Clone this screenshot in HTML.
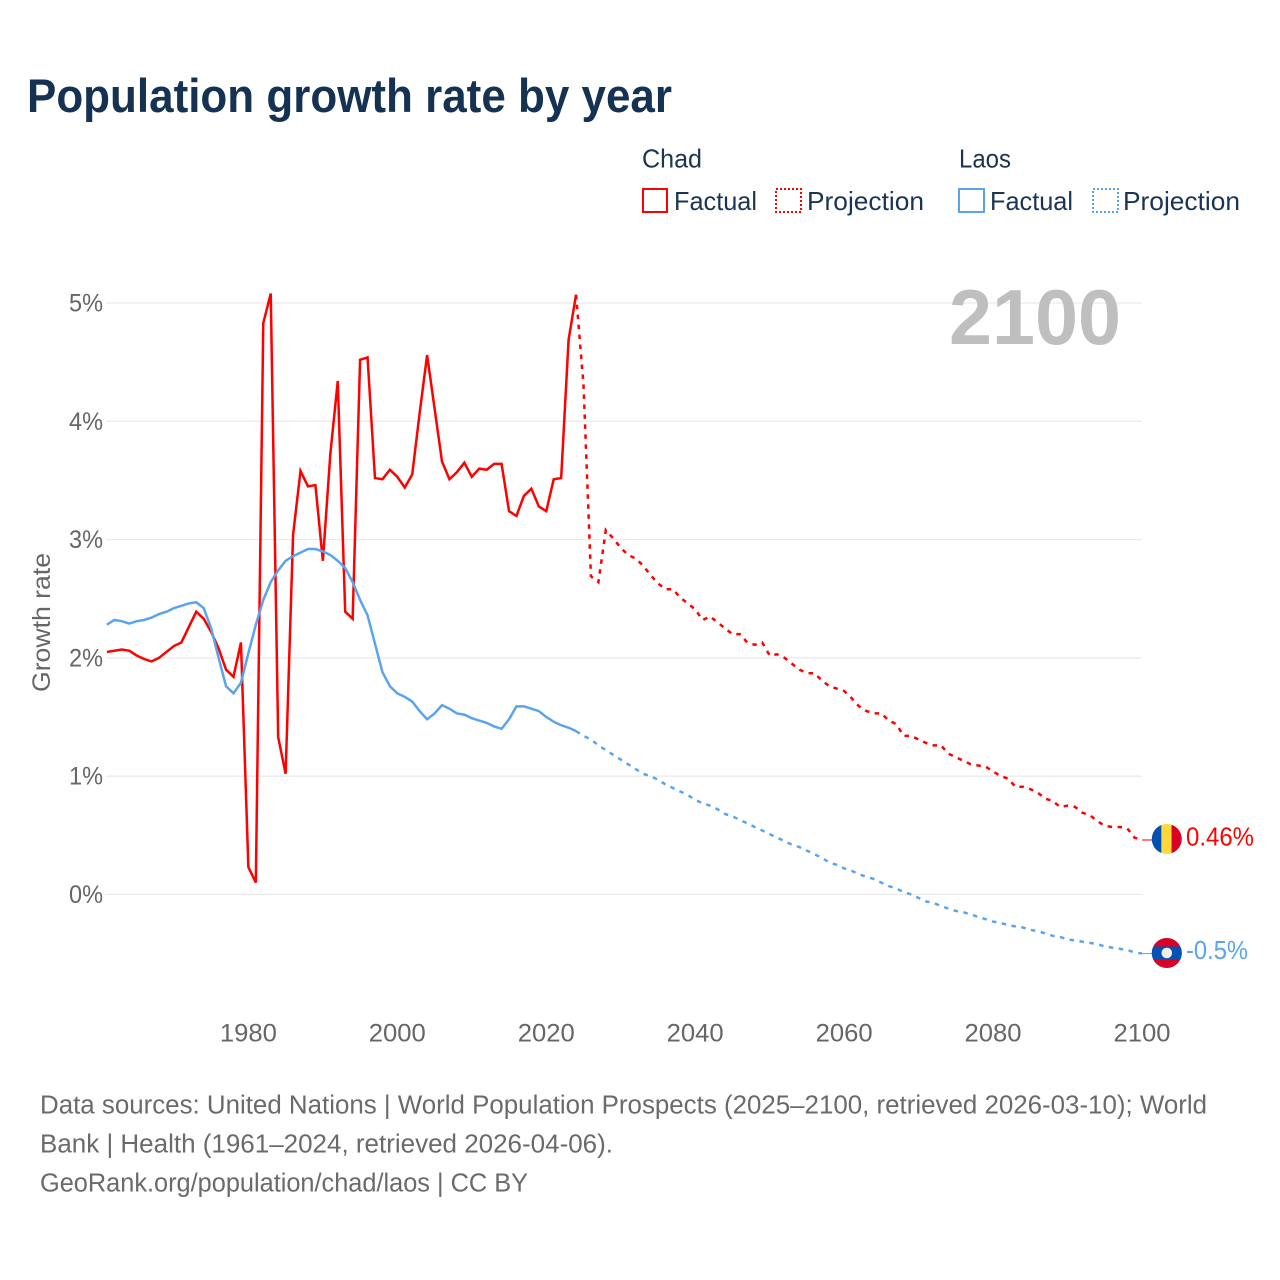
<!DOCTYPE html>
<html lang="en">
<head>
<meta charset="utf-8">
<title>Population growth rate by year</title>
<style>
  html, body { margin: 0; padding: 0; background: #fff; }
  body { width: 1280px; height: 1280px; overflow: hidden; }
  svg { display: block; font-family: "Liberation Sans", sans-serif; }
  .tick { font-size: 25px; fill: #666; }
  .legend { font-size: 26px; fill: #1b3454; }
  .foot { font-size: 25.5px; fill: #6a6a6a; }
</style>
</head>
<body>
<svg id="chart" width="1280" height="1280" viewBox="0 0 1280 1280" xmlns="http://www.w3.org/2000/svg">
  <defs>
    <clipPath id="clip-chad"><circle cx="1166.8" cy="839" r="15"/></clipPath>
    <clipPath id="clip-laos"><circle cx="1166.8" cy="953" r="15"/></clipPath>
  </defs>

  <text x="27" y="112" font-size="47" font-weight="700" fill="#163253" textLength="645" lengthAdjust="spacingAndGlyphs">Population growth rate by year</text>

  <g>
    <text class="legend" x="642" y="167.5" textLength="60" lengthAdjust="spacingAndGlyphs">Chad</text>
    <g>
      <rect x="643" y="189" width="24" height="23" fill="none" stroke="#ff0000" stroke-width="2"/>
      <text class="legend" x="674" y="210" textLength="83" lengthAdjust="spacingAndGlyphs">Factual</text>
    </g>
    <g>
      <rect x="776" y="189" width="25" height="23" fill="none" stroke="#ff0000" stroke-width="2" stroke-dasharray="2 2"/>
      <text class="legend" x="807" y="210" textLength="117" lengthAdjust="spacingAndGlyphs">Projection</text>
    </g>
    <text class="legend" x="959" y="167.5" textLength="52" lengthAdjust="spacingAndGlyphs">Laos</text>
    <g>
      <rect x="959" y="189" width="25" height="23" fill="none" stroke="#5ba4ec" stroke-width="2"/>
      <text class="legend" x="990" y="210" textLength="83" lengthAdjust="spacingAndGlyphs">Factual</text>
    </g>
    <g>
      <rect x="1093" y="189" width="25" height="23" fill="none" stroke="#5ba4ec" stroke-width="2" stroke-dasharray="2 2"/>
      <text class="legend" x="1123" y="210" textLength="117" lengthAdjust="spacingAndGlyphs">Projection</text>
    </g>
  </g>

  <g id="grid"></g>
  <g id="y-ticks"></g>
  <g id="x-ticks"></g>

  <text transform="translate(50,622.5) rotate(-90)" text-anchor="middle" font-size="25" fill="#666" textLength="139" lengthAdjust="spacingAndGlyphs">Growth rate</text>

  <text x="949" y="344" font-size="78" font-weight="700" fill="#bfbfbf" textLength="172" lengthAdjust="spacingAndGlyphs">2100</text>

  <g id="series"></g>

  <g clip-path="url(#clip-chad)">
    <rect x="1151" y="823" width="10.8" height="32" fill="#0050b0"/>
    <rect x="1161.3" y="823" width="10" height="32" fill="#ffd83d"/>
    <rect x="1171.5" y="823" width="11" height="32" fill="#d80027"/>
  </g>
  <text x="1186" y="845.5" font-size="25.5" fill="#ff0000" textLength="68" lengthAdjust="spacingAndGlyphs">0.46%</text>

  <g clip-path="url(#clip-laos)">
    <rect x="1151" y="937" width="32" height="32" fill="#d80027"/>
    <rect x="1151" y="946.5" width="32" height="13.5" fill="#0052b4"/>
    <circle cx="1166.8" cy="953" r="5.3" fill="#f0f0f0"/>
  </g>
  <text x="1186" y="959" font-size="25.5" fill="#5ba4ec" textLength="62" lengthAdjust="spacingAndGlyphs">-0.5%</text>

  <g>
    <text class="foot" x="40" y="1113.5" textLength="1167" lengthAdjust="spacingAndGlyphs">Data sources: United Nations | World Population Prospects (2025–2100, retrieved 2026-03-10); World</text>
    <text class="foot" x="40" y="1152.5" textLength="573" lengthAdjust="spacingAndGlyphs">Bank | Health (1961–2024, retrieved 2026-04-06).</text>
    <text class="foot" x="40" y="1191.5" textLength="488" lengthAdjust="spacingAndGlyphs">GeoRank.org/population/chad/laos | CC BY</text>
  </g>
</svg>

<script>
const factualStartYear = 1961;
const projectionStartYear = 2024;

const chadFactual = [
  2.05,2.06,2.07,2.06,2.02,1.99,1.97,2.00,2.05,2.10,
  2.13,2.26,2.39,2.33,2.22,2.08,1.90,1.84,2.13,0.23,
  0.10,4.83,5.08,1.33,1.02,3.04,3.58,3.45,3.46,2.82,
  3.72,4.34,2.39,2.33,4.52,4.54,3.52,3.51,3.59,3.53,
  3.44,3.55,4.07,4.56,4.11,3.66,3.51,3.57,3.65,3.53,
  3.60,3.59,3.64,3.64,3.24,3.20,3.37,3.43,3.28,3.24,
  3.51,3.52,4.69,5.07
];
const chadProjection = [
  5.07,4.31,2.69,2.64,3.08,3.01,2.93,
  2.87,2.84,2.78,2.70,2.63,2.58,2.58,2.51,2.46,2.41,
  2.32,2.35,2.30,2.25,2.20,2.20,2.13,2.11,2.13,2.02,
  2.03,2.00,1.95,1.90,1.87,1.87,1.81,1.76,1.74,1.72,
  1.66,1.59,1.55,1.53,1.53,1.47,1.44,1.34,1.34,1.31,
  1.28,1.26,1.26,1.19,1.16,1.13,1.10,1.09,1.08,1.04,
  1.00,0.98,0.91,0.91,0.89,0.86,0.81,0.79,0.74,0.75,
  0.74,0.69,0.67,0.62,0.58,0.57,0.57,0.56,0.48,0.46
];
const laosFactual = [
  2.28,2.32,2.31,2.29,2.31,2.32,2.34,2.37,2.39,2.42,
  2.44,2.46,2.47,2.42,2.25,2.00,1.76,1.70,1.79,2.04,
  2.28,2.49,2.64,2.74,2.82,2.86,2.89,2.92,2.92,2.90,
  2.87,2.82,2.76,2.64,2.49,2.36,2.12,1.88,1.76,1.70,
  1.67,1.63,1.55,1.48,1.53,1.60,1.57,1.53,1.52,1.49,
  1.47,1.45,1.42,1.40,1.48,1.59,1.59,1.57,1.55,1.50,
  1.46,1.43,1.41,1.38
];
const laosProjection = [
  1.38,1.34,1.31,1.26,1.22,1.18,1.14,
  1.10,1.06,1.02,1.00,0.97,0.93,0.90,0.87,0.84,0.80,
  0.77,0.75,0.72,0.68,0.66,0.63,0.60,0.57,0.54,0.51,
  0.48,0.45,0.42,0.40,0.37,0.34,0.31,0.27,0.25,0.22,
  0.20,0.17,0.15,0.13,0.10,0.07,0.05,0.02,0.00,-0.03,
  -0.06,-0.07,-0.10,-0.12,-0.14,-0.15,-0.17,-0.19,-0.21,-0.23,
  -0.24,-0.26,-0.27,-0.28,-0.30,-0.31,-0.33,-0.35,-0.36,-0.38,
  -0.39,-0.40,-0.41,-0.42,-0.44,-0.45,-0.46,-0.47,-0.49,-0.50
];
const yTickValues = [0, 1, 2, 3, 4, 5];
const yTickLabels = ["0%", "1%", "2%", "3%", "4%", "5%"];
const xTickYears = [1980, 2000, 2020, 2040, 2060, 2080, 2100];
const xTickLabels = ["1980", "2000", "2020", "2040", "2060", "2080", "2100"];

const SVG_NS = "http://www.w3.org/2000/svg";

function xScale(year) {
  return 106.9 + (year - 1961) * (1142 - 106.9) / (2100 - 1961);
}
function yScale(value) {
  return 894.4 - value * (894.4 - 303) / 5;
}
function linePath(values, startYear) {
  return values.map(function (v, i) {
    return (i ? "L" : "M") + xScale(startYear + i).toFixed(2) + " " + yScale(v).toFixed(2);
  }).join(" ");
}

const gridGroup = document.getElementById("grid");
const yTickGroup = document.getElementById("y-ticks");
yTickValues.forEach(function (v, i) {
  const gridLine = document.createElementNS(SVG_NS, "line");
  gridLine.setAttribute("x1", 106);
  gridLine.setAttribute("x2", 1142);
  gridLine.setAttribute("y1", yScale(v));
  gridLine.setAttribute("y2", yScale(v));
  gridLine.setAttribute("stroke", "#e9e9e9");
  gridLine.setAttribute("stroke-width", "1.2");
  
  
  gridGroup.appendChild(gridLine);

  const label = document.createElementNS(SVG_NS, "text");
  label.setAttribute("class", "tick");
  label.setAttribute("x", 103);
  label.setAttribute("y", yScale(v) + 8.5);
  label.setAttribute("text-anchor", "end");
  label.setAttribute("textLength", 34);
  label.setAttribute("lengthAdjust", "spacingAndGlyphs");
  
  
  label.textContent = yTickLabels[i];
  yTickGroup.appendChild(label);
});

const xTickGroup = document.getElementById("x-ticks");
xTickYears.forEach(function (year, i) {
  const label = document.createElementNS(SVG_NS, "text");
  label.setAttribute("class", "tick");
  label.setAttribute("x", xScale(year));
  label.setAttribute("y", 1041.5);
  label.setAttribute("text-anchor", "middle");
  label.setAttribute("textLength", 57);
  label.setAttribute("lengthAdjust", "spacingAndGlyphs");
  
  
  label.textContent = xTickLabels[i];
  xTickGroup.appendChild(label);
});

const seriesGroup = document.getElementById("series");

const chadFactualLine = document.createElementNS(SVG_NS, "path");
chadFactualLine.setAttribute("d", linePath(chadFactual, factualStartYear));
chadFactualLine.setAttribute("fill", "none");
chadFactualLine.setAttribute("stroke", "#ff0000");
chadFactualLine.setAttribute("stroke-width", "2.5");
chadFactualLine.setAttribute("stroke-linejoin", "miter");


seriesGroup.appendChild(chadFactualLine);

const chadProjectionLine = document.createElementNS(SVG_NS, "path");
chadProjectionLine.setAttribute("d", linePath(chadProjection, projectionStartYear));
chadProjectionLine.setAttribute("fill", "none");
chadProjectionLine.setAttribute("stroke", "#ff0000");
chadProjectionLine.setAttribute("stroke-width", "2.5");
chadProjectionLine.setAttribute("stroke-dasharray", "4.5 5.5");


seriesGroup.appendChild(chadProjectionLine);

const laosFactualLine = document.createElementNS(SVG_NS, "path");
laosFactualLine.setAttribute("d", linePath(laosFactual, factualStartYear));
laosFactualLine.setAttribute("fill", "none");
laosFactualLine.setAttribute("stroke", "#5ba4ec");
laosFactualLine.setAttribute("stroke-width", "2.5");


seriesGroup.appendChild(laosFactualLine);

const laosProjectionLine = document.createElementNS(SVG_NS, "path");
laosProjectionLine.setAttribute("d", linePath(laosProjection, projectionStartYear));
laosProjectionLine.setAttribute("fill", "none");
laosProjectionLine.setAttribute("stroke", "#5ba4ec");
laosProjectionLine.setAttribute("stroke-width", "2.5");
laosProjectionLine.setAttribute("stroke-dasharray", "4.5 5.5");


seriesGroup.appendChild(laosProjectionLine);

const chadConnector = document.createElementNS(SVG_NS, "line");
chadConnector.setAttribute("x1", xScale(2100));
chadConnector.setAttribute("x2", 1152);
chadConnector.setAttribute("y1", yScale(chadProjection[chadProjection.length - 1]));
chadConnector.setAttribute("y2", yScale(chadProjection[chadProjection.length - 1]));
chadConnector.setAttribute("stroke", "#ff0000");
chadConnector.setAttribute("stroke-width", "1");


seriesGroup.appendChild(chadConnector);

const laosConnector = document.createElementNS(SVG_NS, "line");
laosConnector.setAttribute("x1", xScale(2100));
laosConnector.setAttribute("x2", 1152);
laosConnector.setAttribute("y1", yScale(laosProjection[laosProjection.length - 1]));
laosConnector.setAttribute("y2", yScale(laosProjection[laosProjection.length - 1]));
laosConnector.setAttribute("stroke", "#5ba4ec");
laosConnector.setAttribute("stroke-width", "1");


seriesGroup.appendChild(laosConnector);
</script>
</body>
</html>
